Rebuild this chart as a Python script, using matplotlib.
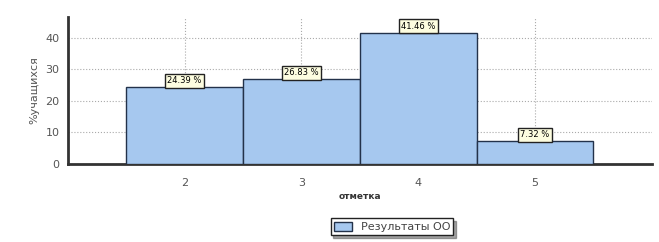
import matplotlib.pyplot as plt

marks = [2, 3, 4, 5]
percents = [24.39, 26.83, 41.46, 7.32]
labels = ["24.39 %", "26.83 %", "41.46 %", "7.32 %"]

fig = plt.figure(figsize=(6.59, 2.42), dpi=100)
ax = fig.add_axes([0.103, 0.322, 0.886, 0.608])

ax.bar(marks, percents, width=1.0, color="#a6c8ef", edgecolor="#23324a",
       linewidth=1.0, label="Результаты ОО", zorder=3)

for x, y, t in zip(marks, percents, labels):
    ax.text(x, y + 0.6, t, ha="center", va="bottom", fontsize=6, zorder=5,
            bbox=dict(boxstyle="square,pad=0.3", fc="#fdfde0", ec="#222222", lw=1.0))

ax.set_xlim(1, 6)
ax.set_ylim(0, 46.5)
ax.set_xticks(marks)
ax.set_yticks([0, 10, 20, 30, 40])
ax.grid(True, linestyle=":", color="#aaaaaa", linewidth=0.8, zorder=0)
ax.tick_params(labelsize=8, colors="#555555", length=0)
ax.tick_params(axis="x", pad=10)
ax.tick_params(axis="y", pad=6)

for s in ["top", "right"]:
    ax.spines[s].set_visible(False)
ax.spines["left"].set_linewidth(2)
ax.spines["bottom"].set_linewidth(2)
ax.spines["left"].set_color("#333333")
ax.spines["bottom"].set_color("#333333")

ax.set_ylabel("%учащихся", fontsize=8, color="#555555")
ax.set_xlabel("отметка", fontsize=6.5, fontweight="bold", color="#333333", labelpad=3)

leg = ax.legend(loc="upper center", bbox_to_anchor=(0.555, -0.33), fontsize=8,
                frameon=True, fancybox=False, shadow=True, handlelength=1.6,
                handleheight=0.9, borderpad=0.3)
leg.get_frame().set_edgecolor("#222222")
for t in leg.get_texts():
    t.set_color("#444444")

fig.savefig("out.png", dpi=100)
